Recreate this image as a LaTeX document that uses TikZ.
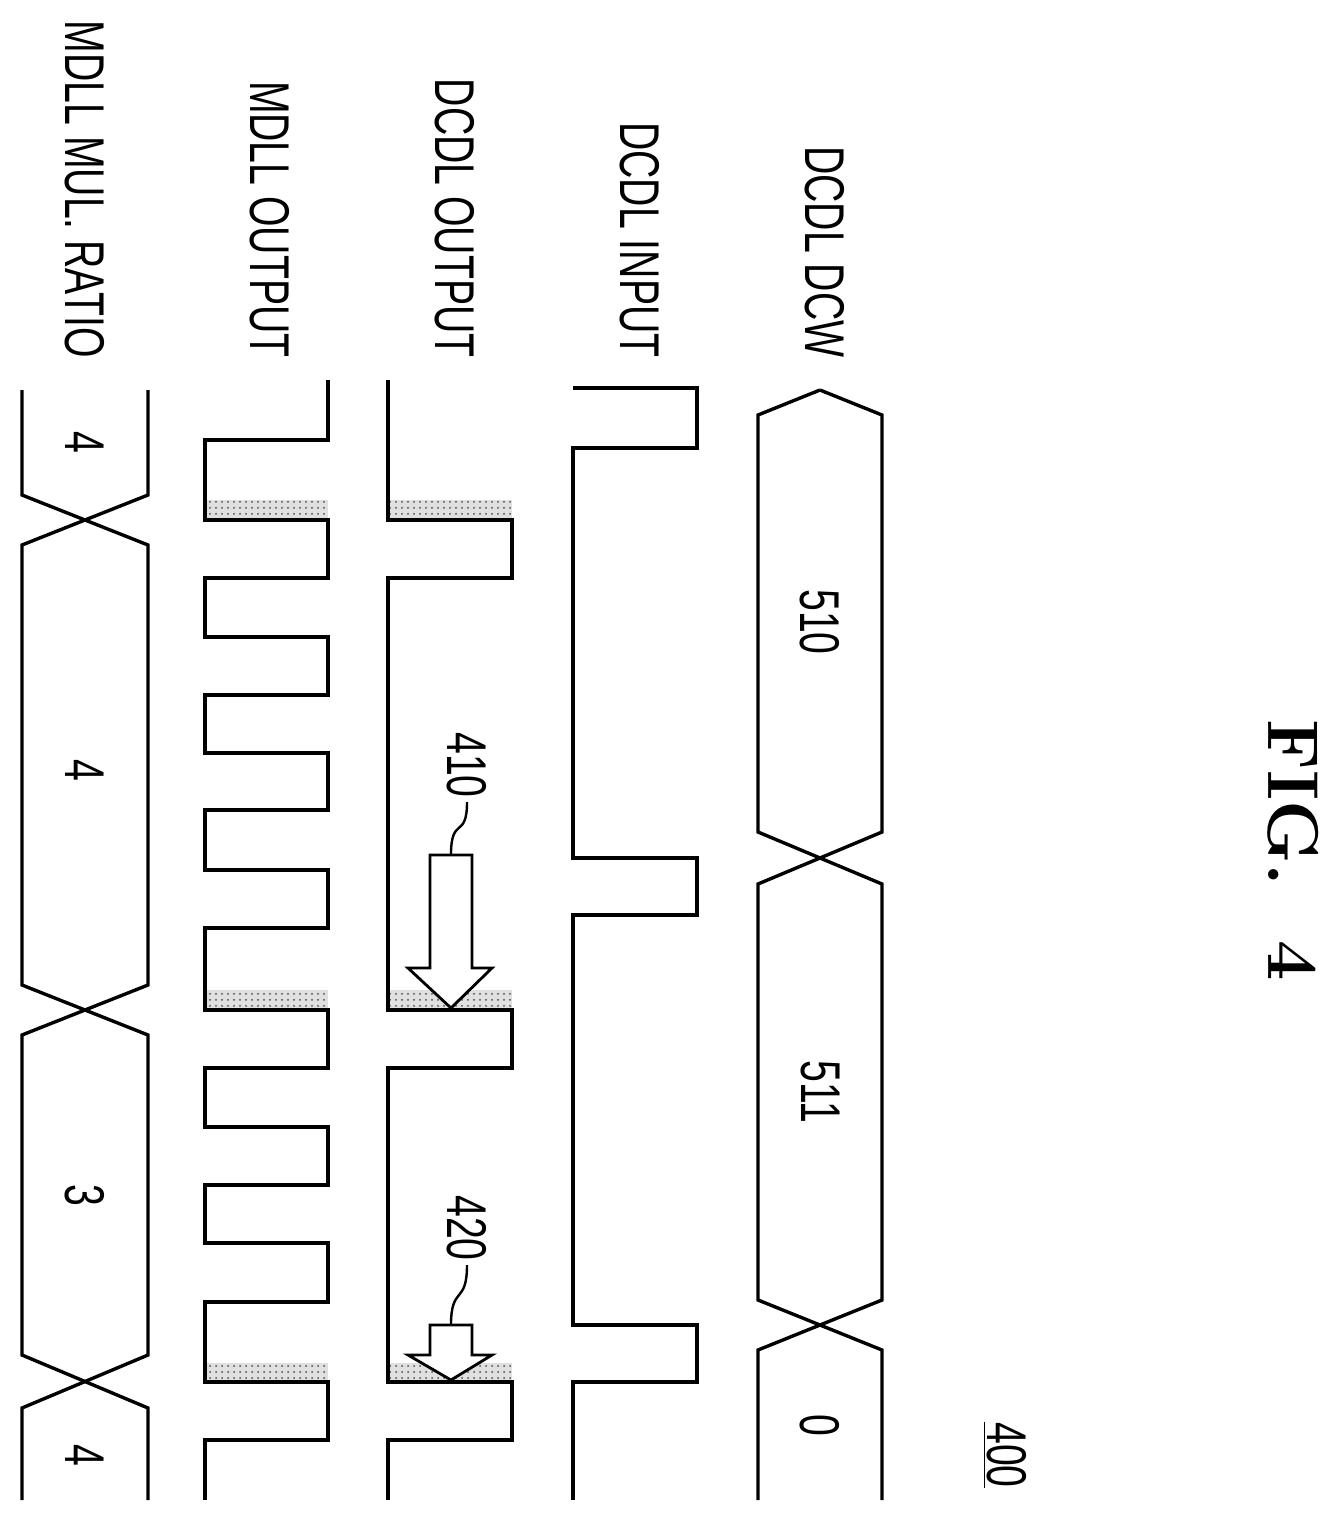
\documentclass[tikz,border=0pt]{standalone}
\usepackage{fontspec}
\setsansfont{Liberation Sans}
\usetikzlibrary{patterns}
\newcommand\nw[1]{\scalebox{0.7}[1]{#1}}
\tikzset{
  wave/.style={line width=1.7pt},
  lbl/.style={rotate=-90,font=\fontsize{28}{30}\sffamily,inner sep=0pt},
  shade/.style={fill=black!15,pattern color=black!70,pattern=dots},
  blockarrow/.style={line width=1.4pt,fill=white,draw=black}
}
\begin{document}
\begin{tikzpicture}[x=0.5pt,y=-0.5pt]
    \useasboundingbox (0,0) rectangle (1341,1522);
    % title and reference number
    \node[rotate=-90,font=\fontsize{36}{40}\bfseries] (fig) at (1293,850) {FIG.\ \ 4};
    \node[lbl] (ref) at (1005,1455) {\underline{\nw{400}}};
    % signal names
    \node[lbl,anchor=east] (ndcw) at (825,358) {\nw{DCDL DCW}};
    \node[lbl,anchor=east] (nin) at (640,358) {\nw{DCDL INPUT}};
    \node[lbl,anchor=east] (nout) at (455,358) {\nw{DCDL OUTPUT}};
    \node[lbl,anchor=east] (nmdll) at (270,358) {\nw{MDLL OUTPUT}};
    \node[lbl,anchor=east] (nratio) at (85,358) {\nw{MDLL MUL. RATIO}};
    % shaded delay windows
    \foreach \y in {500,990,1363} {
        \fill[black!12] (388,\y) rectangle (512,\y+20);
        \fill[shade] (388,\y) rectangle (512,\y+20);
        \fill[black!12] (205,\y) rectangle (328,\y+20);
        \fill[shade] (205,\y) rectangle (328,\y+20);
    }
    % DCDL DCW bus
    \draw[wave] (820,390) -- (758,415) -- (758,832) -- (882,884) -- (882,1300) -- (758,1350) -- (758,1500);
    \draw[wave] (820,390) -- (882,415) -- (882,832) -- (758,884) -- (758,1300) -- (882,1350) -- (882,1500);
    \node[lbl] (v510) at (820,622) {\nw{510}};
    \node[lbl] (v511) at (820,1092) {\nw{511}};
    \node[lbl] (v0) at (820,1425) {\nw{0}};
    % DCDL INPUT
    \draw[wave] (573,388) -- (697,388) -- (697,448) -- (573,448) -- (573,858) -- (697,858) -- (697,915)
        -- (573,915) -- (573,1325) -- (697,1325) -- (697,1382) -- (573,1382) -- (573,1500);
    % DCDL OUTPUT
    \draw[wave] (388,380) -- (388,520) -- (512,520) -- (512,578) -- (388,578) -- (388,1010) -- (512,1010)
        -- (512,1068) -- (388,1068) -- (388,1382) -- (512,1382) -- (512,1440) -- (388,1440) -- (388,1500);
    % MDLL OUTPUT
    \draw[wave] (328,380) -- (328,440) -- (205,440) -- (205,520) -- (328,520) -- (328,578) -- (205,578)
        -- (205,637) -- (328,637) -- (328,695) -- (205,695) -- (205,753) -- (328,753) -- (328,810)
        -- (205,810) -- (205,870) -- (328,870) -- (328,928) -- (205,928) -- (205,1010) -- (328,1010)
        -- (328,1068) -- (205,1068) -- (205,1127) -- (328,1127) -- (328,1185) -- (205,1185) -- (205,1243)
        -- (328,1243) -- (328,1302) -- (205,1302) -- (205,1382) -- (328,1382) -- (328,1440) -- (205,1440)
        -- (205,1500);
    % MDLL MUL. RATIO bus
    \draw[wave] (22,390) -- (22,495) -- (148,545) -- (148,985) -- (22,1035) -- (22,1355) -- (148,1408) -- (148,1500);
    \draw[wave] (148,390) -- (148,495) -- (22,545) -- (22,985) -- (148,1035) -- (148,1355) -- (22,1408) -- (22,1500);
    \node[lbl] (r1) at (85,442) {\nw{4}};
    \node[lbl] (r2) at (85,770) {\nw{4}};
    \node[lbl] (r3) at (85,1195) {\nw{3}};
    \node[lbl] (r4) at (85,1455) {\nw{4}};
    % block arrows with leaders
    \draw[blockarrow] (430,855) -- (472,855) -- (472,968) -- (492,968) -- (451,1008) -- (408,968) -- (430,968) -- cycle;
    \draw[blockarrow] (430,1325) -- (472,1325) -- (472,1355) -- (492,1355) -- (451,1380) -- (408,1355) -- (430,1355) -- cycle;
    \node[lbl] (a410) at (467,765) {\nw{410}};
    \node[lbl] (a420) at (467,1228) {\nw{420}};
    \draw[line width=1.2pt] ([yshift=-2pt]a410.east) .. controls (467,840) and (451,815) .. (451,855);
    \draw[line width=1.2pt] ([yshift=-2pt]a420.east) .. controls (467,1305) and (451,1285) .. (451,1325);
\end{tikzpicture}
\end{document}
